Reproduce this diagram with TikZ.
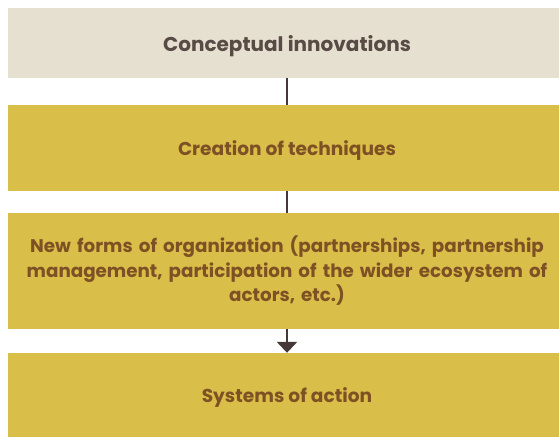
\documentclass[tikz,border=0pt]{standalone}
\usepackage{fontspec}
\usepackage{xcolor}
\usetikzlibrary{arrows.meta}

\newfontfamily\poppins{Poppins}[BoldFont={* Bold}]

\definecolor{sand}{HTML}{E6E0D0}
\definecolor{mustard}{HTML}{DABE4A}
\definecolor{umber}{HTML}{7E5124}
\definecolor{ashbrown}{HTML}{584A45}
\definecolor{linebrown}{HTML}{463836}

\tikzset{
  stage/.style={rectangle, inner sep=0pt, minimum width=558pt, fill=mustard,
    text=umber, font=\poppins\bfseries\fontsize{18.6}{24.5}\selectfont,
    align=center},
  link/.style={draw=linebrown, line width=2.7pt}
}

\begin{document}
\begin{tikzpicture}[x=1pt, y=-1pt]

\useasboundingbox (0,0) rectangle (559,437);

% boxes (they run on past the right edge of the page)

\node[stage, fill=sand, text=ashbrown, minimum height=70pt, text depth=0pt,
  font=\poppins\bfseries\fontsize{20}{24}\selectfont] (concept) at (287, 43) {Conceptual innovations};

\node[stage, minimum height=86pt, text depth=0pt] (techniques) at (287, 148) {Creation of techniques};

\node[stage, minimum height=116pt, text width=548pt,
  font=\poppins\bfseries\fontsize{18.3}{24.5}\selectfont] (organization) at (287, 271)
  {New forms of organization (partnerships, partnership\\
   management, participation of the wider ecosystem of\\
   actors, etc.)};

\node[stage, minimum height=84pt, text depth=0pt] (action) at (287, 395) {Systems of action};

% links

\draw [link] (concept) -- (techniques);
\draw [link] (techniques) -- (organization);
\draw [link, -{Triangle[width=20pt, length=11pt]}] (organization) -- (action);

\end{tikzpicture}
\end{document}
